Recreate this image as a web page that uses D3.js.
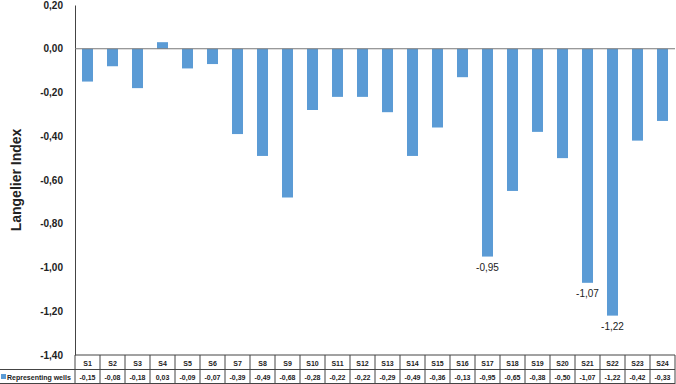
<!DOCTYPE html>
<html>
<head>
<meta charset="utf-8">
<script src="https://cdn.jsdelivr.net/npm/d3@7"></script>
<style>
  body { margin: 0; background: #fff; }
  text { font-family: "Liberation Sans", Arial, sans-serif; fill: #222; }
</style>
</head>
<body>
<script>
// data
const wells = ['S1','S2','S3','S4','S5','S6','S7','S8','S9','S10','S11','S12',
               'S13','S14','S15','S16','S17','S18','S19','S20','S21','S22','S23','S24'];
const values = [-0.15,-0.08,-0.18,0.03,-0.09,-0.07,-0.39,-0.49,-0.68,-0.28,-0.22,-0.22,
                -0.29,-0.49,-0.36,-0.13,-0.95,-0.65,-0.38,-0.50,-1.07,-1.22,-0.42,-0.33];
const labelled = ['S17','S21','S22'];
const yTicks = [0.2, 0, -0.2, -0.4, -0.6, -0.8, -1.0, -1.2, -1.4];
const seriesName = 'Representing wells';

const width = 676, height = 384;
const margin = {top: 5, right: 1, bottom: 29, left: 75};
const rowH = 14.5;

const svg = d3.select('body').append('svg').attr('width', width).attr('height', height);

const x = d3.scaleBand().domain(wells).range([margin.left, width - margin.right]).paddingInner(0.56).paddingOuter(0.28);
const y = d3.scaleLinear().domain([-1.4, 0.2]).range([height - margin.bottom, margin.top]);

const fmt = v => d3.format('.2f')(v).replace('.', ',').replace('−', '-');

// y axis
const yAxis = d3.axisLeft(y).tickValues(yTicks).tickSize(0).tickPadding(12).tickFormat(fmt);
const ga = svg.append('g').attr('transform', 'translate(' + margin.left + ',0)').call(yAxis);
ga.select('.domain').attr('stroke', '#444').attr('stroke-width', 1);
ga.selectAll('text').attr('font-size', 10).attr('font-weight', 'bold').style('font-family', '"Liberation Sans", Arial, sans-serif').attr('fill', '#333');

svg.append('text')
  .attr('transform', 'translate(21,' + ((margin.top + height - margin.bottom) / 2) + ') rotate(-90)')
  .attr('text-anchor', 'middle')
  .attr('font-size', 14).attr('font-weight', 'bold')
  .text('Langelier Index');

// bars
svg.append('g').selectAll('rect')
  .data(values)
  .join('rect')
  .attr('x', (d, i) => x(wells[i]))
  .attr('width', x.bandwidth())
  .attr('y', d => y(Math.max(0, d)))
  .attr('height', d => Math.abs(y(d) - y(0)))
  .attr('fill', '#5B9BD5');

// zero line
svg.append('line')
  .attr('x1', margin.left).attr('x2', width - margin.right)
  .attr('y1', y(0)).attr('y2', y(0))
  .attr('stroke', '#777').attr('stroke-width', 1);

// data labels
svg.append('g').selectAll('text')
  .data(values.map((v, i) => ({w: wells[i], v: v})).filter(d => labelled.includes(d.w)))
  .join('text')
  .attr('x', d => x(d.w) + x.bandwidth() / 2)
  .attr('y', d => y(d.v) + 14)
  .attr('text-anchor', 'middle')
  .attr('font-size', 10)
  .text(d => fmt(d.v));

// data table
const tableTop = y(-1.4);
const tb = svg.append('g').attr('stroke', '#444').attr('stroke-width', 1);
tb.append('line').attr('x1', margin.left).attr('x2', width - margin.right).attr('y1', tableTop).attr('y2', tableTop);
tb.append('line').attr('x1', 0).attr('x2', width - margin.right).attr('y1', tableTop + rowH).attr('y2', tableTop + rowH);
tb.append('line').attr('x1', 0).attr('x2', width - margin.right).attr('y1', height - 0.5).attr('y2', height - 0.5);
const step = x.step();
const colEdges = wells.map((w, i) => margin.left + i * step).concat([width - margin.right]);
tb.selectAll('line.col').data(colEdges).join('line').attr('class', 'col')
  .attr('x1', d => d).attr('x2', d => d)
  .attr('y1', tableTop).attr('y2', height);

svg.append('g').selectAll('text')
  .data(wells)
  .join('text')
  .attr('x', d => x(d) + x.bandwidth() / 2)
  .attr('y', tableTop + 10.5)
  .attr('text-anchor', 'middle')
  .attr('font-size', 7).attr('font-weight', 'bold')
  .text(d => d);

svg.append('g').selectAll('text')
  .data(values)
  .join('text')
  .attr('x', (d, i) => x(wells[i]) + x.bandwidth() / 2)
  .attr('y', tableTop + rowH + 10.5)
  .attr('text-anchor', 'middle')
  .attr('font-size', 7).attr('font-weight', 'bold')
  .text(d => fmt(d));

svg.append('rect').attr('x', 1).attr('y', tableTop + rowH + 4.5).attr('width', 5).attr('height', 5).attr('fill', '#5B9BD5');
svg.append('text').attr('x', 7).attr('y', tableTop + rowH + 10.5)
  .attr('font-size', 7).attr('font-weight', 'bold').text(seriesName);
</script>
</body>
</html>
